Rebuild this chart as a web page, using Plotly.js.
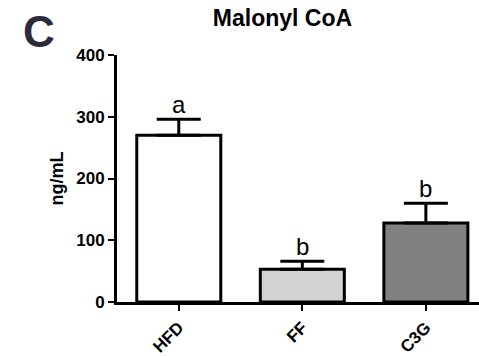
<!DOCTYPE html>
<html>
<head>
<meta charset="utf-8">
<script src="https://cdn.plot.ly/plotly-3.0.1.min.js"></script>
<style>html,body{margin:0;padding:0;background:#fff;}#chart{width:479px;height:356px;}</style>
</head>
<body>
<div id="chart"></div>
<script>
const categories = ["HFD", "FF", "C3G"];
const means = [270, 53, 128];
const errors = [26, 13, 32];
const letters = ["a", "b", "b"];
const barColors = ["#ffffff", "#d3d3d3", "#808080"];
const yTicks = [0, 100, 200, 300, 400];

const FONT = "Liberation Sans, Arial, Helvetica, sans-serif";

const trace = {
  type: "bar",
  x: categories,
  y: means,
  width: 0.68,
  marker: { color: barColors, line: { color: "#000", width: 3 } },
  error_y: {
    type: "data", array: errors, arrayminus: errors.map(() => 0),
    symmetric: false, visible: true, color: "#000", thickness: 3, width: 22
  },
  hoverinfo: "none"
};

const annotations = categories.map((c, i) => ({
  x: c, y: means[i] + errors[i], xref: "x", yref: "y",
  text: letters[i], showarrow: false, yanchor: "bottom", yshift: -1,
  font: { family: FONT, size: 24, color: "#000" }
}));
annotations.push({
  x: -0.215, y: 1.097, xref: "paper", yref: "paper", text: "C", showarrow: false,
  xanchor: "center", yanchor: "middle",
  font: { family: FONT, size: 44, color: "#2b2b3a", weight: "bold" }
});

const layout = {
  width: 479, height: 356,
  margin: { l: 117, r: 0, t: 55, b: 54 },
  paper_bgcolor: "#fff", plot_bgcolor: "#fff",
  showlegend: false,
  title: {
    text: "Malonyl CoA", x: 282.5 / 479, xanchor: "center", xref: "container",
    y: 1 - 18 / 356, yanchor: "middle", yref: "container",
    font: { family: FONT, size: 23, color: "#000", weight: "bold" }
  },
  xaxis: {
    range: [-0.5, 2.43], showline: true, linecolor: "#000", linewidth: 3,
    ticks: "outside", ticklen: 6, tickwidth: 2, tickcolor: "#000",
    tickangle: -45, showgrid: false, zeroline: false, fixedrange: true,
    tickfont: { family: FONT, size: 17, color: "#000", weight: "bold" }
  },
  yaxis: {
    range: [0, 400], tickvals: yTicks, ticktext: yTicks.map(String),
    showline: true, linecolor: "#000", linewidth: 3,
    ticks: "outside", ticklen: 6, tickwidth: 2, tickcolor: "#000",
    showgrid: false, zeroline: false, fixedrange: true,
    tickfont: { family: FONT, size: 17, color: "#000", weight: "bold" },
    title: { text: "ng/mL", standoff: 8, font: { family: FONT, size: 18, color: "#000", weight: "bold" } }
  },
  annotations: annotations
};

Plotly.newPlot("chart", [trace], layout, { staticPlot: true, displayModeBar: false });
</script>
</body>
</html>
